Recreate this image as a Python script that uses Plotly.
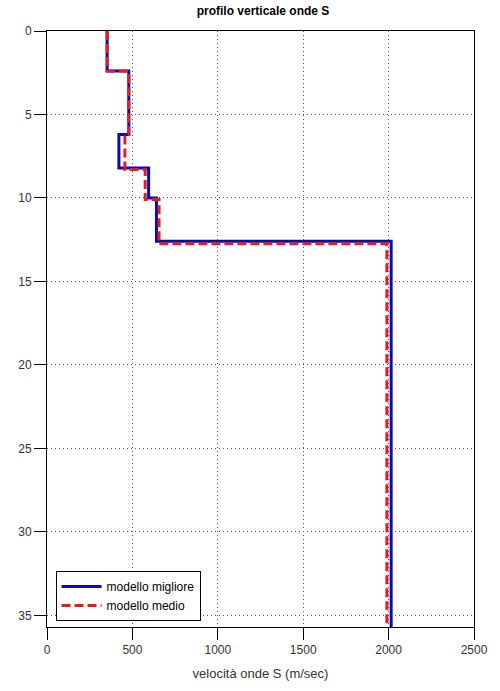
import plotly.graph_objects as go

# Layer boundaries (m) and shear-wave velocities (m/s) for each model
depth_best = [0, 2.4, 6.2, 8.2, 10.0, 12.6, 35.7]
vs_best = [352, 479, 421, 595, 641, 2015]

depth_mean = [0, 2.4, 6.2, 8.3, 10.1, 12.75, 35.7]
vs_mean = [352, 479, 456, 575, 656, 1990]

x_ticks = [0, 500, 1000, 1500, 2000, 2500]
y_ticks = [0, 5, 10, 15, 20, 25, 30, 35]


def step_profile(depths, velocities):
    xs, ys = [], []
    for i, v in enumerate(velocities):
        xs += [v, v]
        ys += [depths[i], depths[i + 1]]
    return xs, ys


xb, yb = step_profile(depth_best, vs_best)
xm, ym = step_profile(depth_mean, vs_mean)

fig = go.Figure()
fig.add_trace(go.Scatter(x=xb, y=yb, mode="lines", name="modello migliore",
                         line=dict(color="#0a0ab4", width=3)))
fig.add_trace(go.Scatter(x=xm, y=ym, mode="lines", name="modello medio",
                         line=dict(color="#e0201e", width=3, dash="9px,4px")))

axis_common = dict(showline=True, linecolor="black", linewidth=1, mirror=True,
                   ticks="outside", ticklen=12, tickcolor="black",
                   showgrid=True, gridcolor="#555555", gridwidth=1, griddash="1px,3px",
                   zeroline=False,
                   tickfont=dict(family="Liberation Sans, Arial", size=12, color="#333333"))

fig.update_layout(
    width=500, height=691,
    paper_bgcolor="white", plot_bgcolor="white",
    margin=dict(l=47, r=20, t=31, b=63),
    title=dict(text="<b>profilo verticale onde S</b>", x=0.526, xanchor="center",
               y=0.985, yanchor="middle",
               font=dict(family="Liberation Sans, Arial", size=12, color="black")),
    xaxis=dict(range=[0, 2500], tickvals=x_ticks, **axis_common,
               title=dict(text="velocità onde S (m/sec)", standoff=12,
                          font=dict(family="Liberation Sans, Arial", size=13, color="#333333"))),
    yaxis=dict(range=[35.7, 0], tickvals=y_ticks, **axis_common),
    legend=dict(x=0.02, y=0.01, xanchor="left", yanchor="bottom",
                bgcolor="white", bordercolor="black", borderwidth=1,
                font=dict(family="Liberation Sans, Arial", size=12, color="black"),
                tracegroupgap=0, itemwidth=40),
    showlegend=True,
)

fig.write_html("out.html")
